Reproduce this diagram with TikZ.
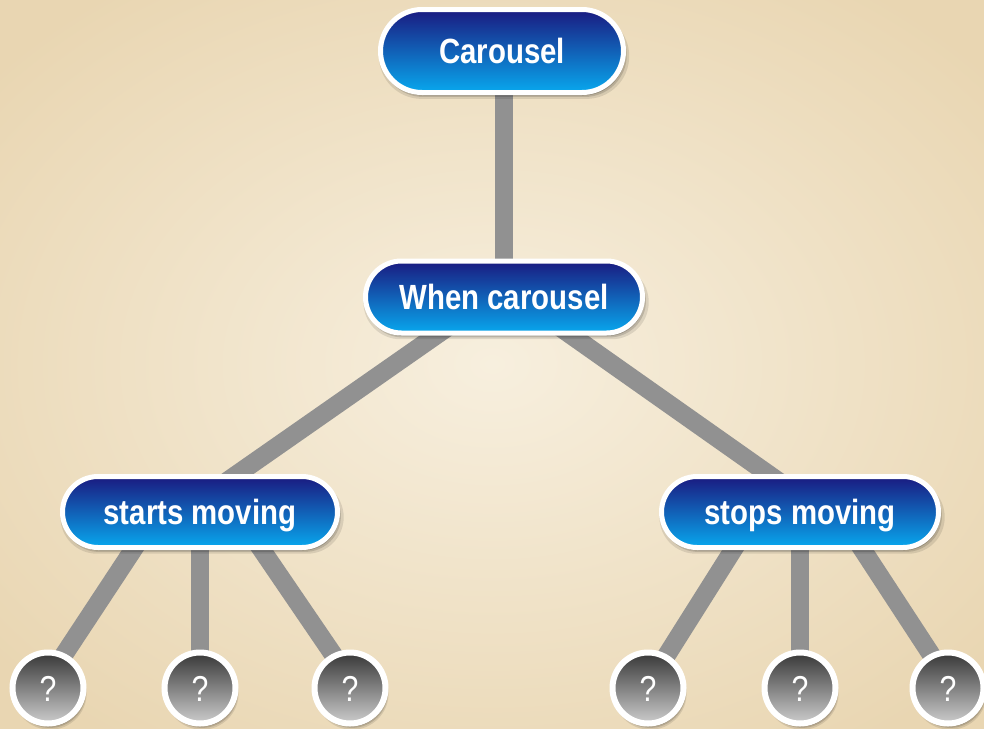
\documentclass[tikz,border=0pt]{standalone}
\usepackage{fontspec}
\usetikzlibrary{shapes.misc,shadows}
\newfontfamily\nodefont{Liberation Sans}[FakeStretch=0.84]
\definecolor{paperin}{RGB}{247,239,222}
\definecolor{paperout}{RGB}{233,214,178}
\definecolor{navy}{RGB}{26,26,128}
\definecolor{sky}{RGB}{8,168,238}
\definecolor{linegray}{RGB}{145,145,145}
\definecolor{balltop}{RGB}{55,55,55}
\definecolor{ballbot}{RGB}{205,205,205}
\pgfdeclarelayer{paper}
\pgfdeclarelayer{background}
\pgfsetlayers{paper,background,main}
\tikzset{
  softshadow/.style={
    general shadow={shadow xshift=2pt, shadow yshift=-5pt, shadow scale=1.03, fill=black, opacity=0.10, draw=none},
    general shadow={shadow xshift=2pt, shadow yshift=-4pt, shadow scale=1.01, fill=black, opacity=0.14, draw=none},
    general shadow={shadow xshift=1.5pt, shadow yshift=-3pt, fill=black, opacity=0.18, draw=none}},
  pill/.style={rounded rectangle, draw=white, line width=5pt,
    top color=navy, bottom color=sky, text=white,
    font=\nodefont\bfseries\fontsize{35}{40}\selectfont,
    text height=25pt, text depth=0pt, inner sep=0pt, softshadow},
  ball/.style={circle, draw=white, line width=6pt,
    top color=balltop, bottom color=ballbot, minimum size=71pt, inner sep=0pt,
    text=white, font=\nodefont\fontsize{36}{40}\selectfont,
    text height=26pt, text depth=0pt, softshadow},
  link/.style={draw=linegray, line width=18.5pt}
}
\begin{document}
\begin{tikzpicture}[x=1pt,y=-1pt]
\useasboundingbox (0,0) rectangle (984,728);
\begin{pgfonlayer}{paper}
  \fill[inner color=paperin, outer color=paperout] (-150,-100) rectangle (1134,828);
\end{pgfonlayer}
\node[pill, minimum width=243pt, minimum height=83pt] (car) at (502,51) {Carousel};
\node[pill, minimum width=277pt, minimum height=72pt] (when) at (504,297) {When carousel};
\node[pill, minimum width=275pt, minimum height=71pt] (sm) at (200,512) {starts moving};
\node[pill, minimum width=277pt, minimum height=71pt] (stm) at (800,512) {stops moving};
\node[ball] (q1) at (48,688) {?};
\node[ball] (q2) at (200,688) {?};
\node[ball] (q3) at (350,688) {?};
\node[ball] (q4) at (648,688) {?};
\node[ball] (q5) at (800,688) {?};
\node[ball] (q6) at (948,688) {?};
\begin{pgfonlayer}{background}
  \draw[link] (car.center) -- (when.center |- car.center) -- (when.center);
  \draw[link] ([xshift=-13pt]when.center) -- ([xshift=-17pt]sm.center);
  \draw[link] ([xshift=13pt]when.center) -- ([xshift=22pt]stm.center);
  \draw[link] ([xshift=-42pt]sm.center) -- ([xshift=-6pt]q1.center);
  \draw[link] (sm.center) -- (q2.center);
  \draw[link] ([xshift=36pt]sm.center) -- ([xshift=6pt]q3.center);
  \draw[link] ([xshift=-43pt]stm.center) -- ([xshift=-2pt]q4.center);
  \draw[link] (stm.center) -- (q5.center);
  \draw[link] ([xshift=38pt]stm.center) -- ([xshift=5pt]q6.center);
\end{pgfonlayer}
\end{tikzpicture}
\end{document}
